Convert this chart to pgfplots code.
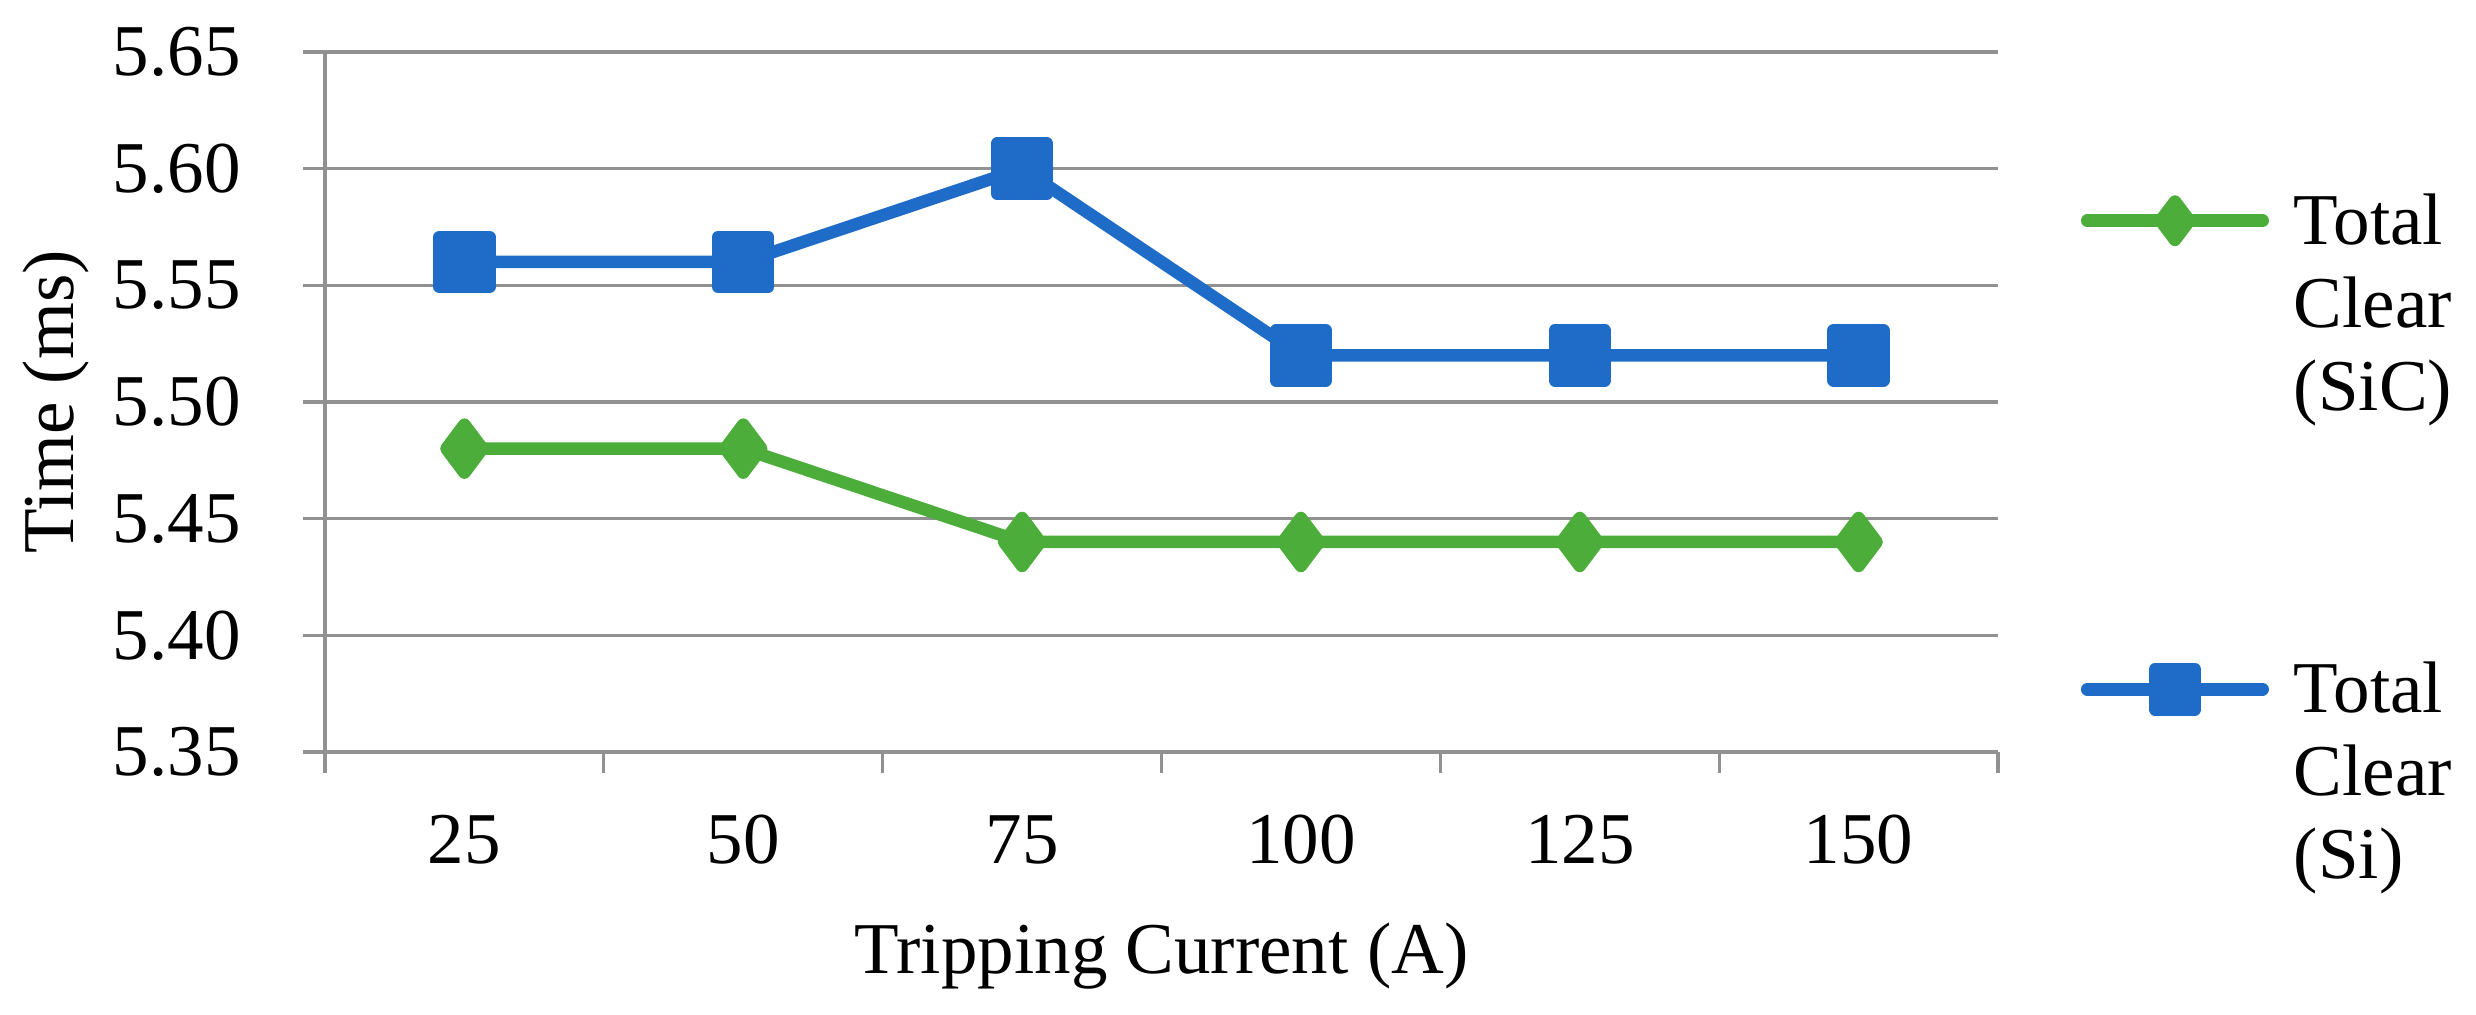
\documentclass[border=0pt]{standalone}
\usepackage{fontspec}
\setmainfont{Liberation Serif}
\usepackage{pgfplots}
\pgfplotsset{compat=1.18}
\definecolor{siC}{RGB}{76,173,58}
\definecolor{si}{RGB}{30,108,200}
\definecolor{gridgray}{RGB}{145,145,145}
\newcommand{\chartfont}{\fontsize{14.6}{16.6}\selectfont}
\begin{document}
\chartfont
\begin{tikzpicture}
\path[use as bounding box] (-65pt,-52.6pt) rectangle (430.2pt,150.4pt);
\begin{axis}[
  at={(0,0)}, anchor=south west,
  scale only axis,
  width=334.6pt, height=140pt,
  xmin=-0.5, xmax=5.5,
  ymin=5.35, ymax=5.65,
  xtick={0,1,2,3,4,5},
  xticklabels={25,50,75,100,125,150},
  minor xtick={-0.5,0.5,1.5,2.5,3.5,4.5,5.5},
  ytick={5.35,5.40,5.45,5.50,5.55,5.60,5.65},
  axis x line*=bottom, axis y line*=left,
  axis line style={-, draw=gridgray, line width=0.66pt},
  tick align=outside,
  major tick length=4.4pt, minor tick length=4.2pt,
  major x tick style={draw=none},
  minor x tick style={draw=gridgray, line width=0.66pt},
  major y tick style={draw=gridgray, line width=0.66pt},
  ymajorgrids,
  grid style={draw=gridgray, line width=0.66pt},
  /pgf/number format/assume math mode=true,
  yticklabel style={xshift=-7.4pt, /pgf/number format/.cd, fixed, fixed zerofill, precision=2},
  xticklabel style={yshift=-3.2pt},
  ticklabel style={font=\chartfont},
  xlabel={Tripping Current (A)},
  ylabel={Time (ms)},
  label style={font=\chartfont},
  every axis x label/.style={at={(axis description cs:0.5,-0.317)}, anchor=base},
  every axis y label/.style={at={(axis description cs:-0.1506,0.5)}, anchor=base, rotate=90},
  legend cell align=left,
  legend style={draw=none, fill=none, at={(axis description cs:1.049,0.824)}, anchor=north west,
    inner sep=0pt, row sep=75.9pt, column sep=3pt,
    nodes={inner sep=2pt, text depth=0.15em},
    font=\chartfont},
  legend image code/.code={\draw[mark repeat=2, mark phase=2, line cap=round, #1, every mark/.append style={scale=0.8}] plot coordinates {(1.25pt,0pt) (18.8pt,0pt) (36.35pt,0pt)};},
]
\addplot[color=siC, line width=2.5pt, line join=round, mark=diamond*, mark size=4.8pt, mark options={draw=none, fill=siC, solid}]
  coordinates {(0,5.48) (1,5.48) (2,5.44) (3,5.44) (4,5.44) (5,5.44)};
\addlegendentry{\raisebox{0pt}[\height][0pt]{\begin{tabular}[t]{@{}l@{}}Total\\Clear\\(SiC)\end{tabular}}}
\addplot[color=si, line width=2.5pt, line join=round, mark=square*, mark size=5pt, mark options={draw=none, fill=si, solid}]
  coordinates {(0,5.56) (1,5.56) (2,5.60) (3,5.52) (4,5.52) (5,5.52)};
\addlegendentry{\raisebox{0pt}[\height][0pt]{\begin{tabular}[t]{@{}l@{}}Total\\Clear\\(Si)\end{tabular}}}
\end{axis}
\end{tikzpicture}
\end{document}
